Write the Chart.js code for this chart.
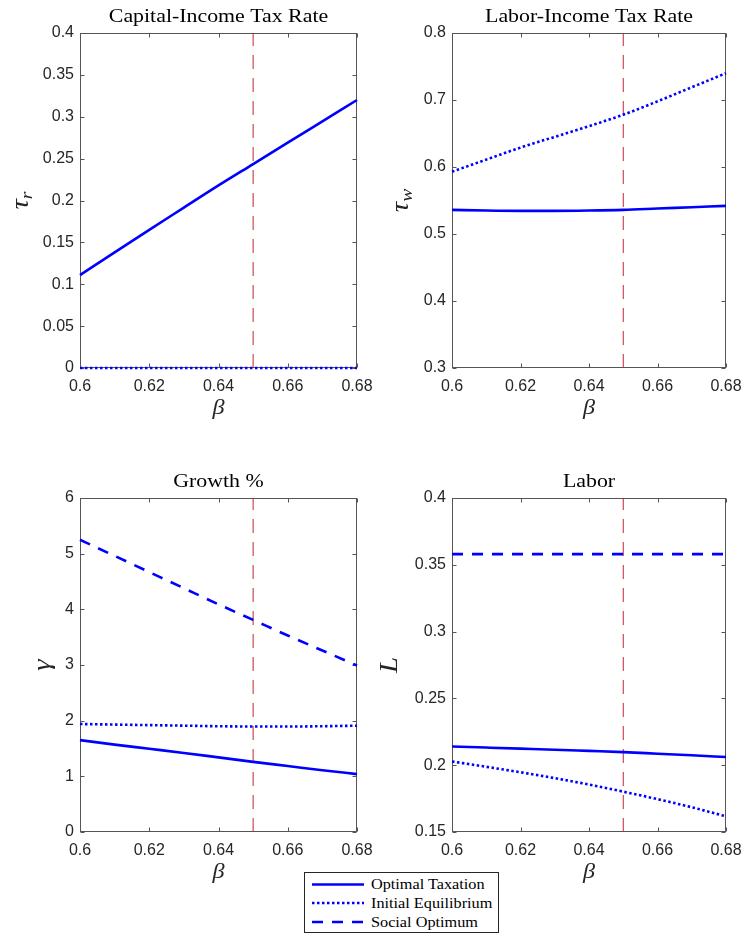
<!DOCTYPE html>
<html>
<head>
<meta charset="utf-8">
<script src="https://cdn.jsdelivr.net/npm/chart.js@4.4.1/dist/chart.umd.min.js"></script>
<style>
html,body{margin:0;padding:0;background:#fff;}
#wrap{position:relative;width:745px;height:936px;overflow:hidden;background:#fff;}
canvas{position:absolute;}
#legend{position:absolute;left:304px;top:872px;width:195px;height:61px;border:1px solid #262626;background:#fff;box-sizing:border-box;}
#legend svg{position:absolute;left:0;top:0;}
#legend .txt{position:absolute;left:66px;font-family:"Liberation Serif","Times New Roman",serif;font-size:14.5px;color:#000;white-space:nowrap;transform:scaleX(1.12);transform-origin:left center;line-height:16px;}
</style>
</head>
<body>
<div id="wrap">
  <canvas id="c1" width="372" height="440" style="left:0;top:0"></canvas>
  <canvas id="c2" width="373" height="440" style="left:372px;top:0"></canvas>
  <canvas id="c3" width="372" height="476" style="left:0;top:460px"></canvas>
  <canvas id="c4" width="373" height="476" style="left:372px;top:460px"></canvas>
  <div id="legend"></div>
</div>
<script>
// ---------------- data ----------------
const beta = [0.60, 0.61, 0.62, 0.63, 0.64, 0.65, 0.66, 0.67, 0.68];
const seriesNames = ['Optimal Taxation', 'Initial Equilibrium', 'Social Optimum'];

const capOptimal = [0.111, 0.138, 0.165, 0.1915, 0.218, 0.2435, 0.269, 0.2945, 0.320];
const capInitial = [0, 0, 0, 0, 0, 0, 0, 0, 0];

const labOptimal = [0.536, 0.535, 0.5345, 0.5345, 0.535, 0.536, 0.538, 0.540, 0.542];
const labInitial = [0.593, 0.611, 0.629, 0.645, 0.661, 0.678, 0.698, 0.719, 0.740];

const growthOptimal = [1.65, 1.57, 1.495, 1.42, 1.34, 1.26, 1.185, 1.11, 1.04];
const growthInitial = [1.94, 1.93, 1.92, 1.91, 1.90, 1.895, 1.895, 1.90, 1.91];
const growthSocial  = [5.25, 4.96, 4.67, 4.38, 4.09, 3.81, 3.53, 3.26, 2.99];

const laborOptimal = [0.214, 0.2132, 0.2124, 0.2116, 0.2107, 0.2098, 0.2086, 0.2074, 0.2061];
const laborInitial = [0.2028, 0.1988, 0.1947, 0.1903, 0.1855, 0.1802, 0.1746, 0.1685, 0.1617];
const laborSocial  = [0.358, 0.358, 0.358, 0.358, 0.358, 0.358, 0.358, 0.358, 0.358];

const vlineBeta = 0.65;

const xTicks      = [0.6, 0.62, 0.64, 0.66, 0.68];
const capTicks    = [0, 0.05, 0.1, 0.15, 0.2, 0.25, 0.3, 0.35, 0.4];
const labTicks    = [0.3, 0.4, 0.5, 0.6, 0.7, 0.8];
const growthTicks = [0, 1, 2, 3, 4, 5, 6];
const laborTicks  = [0.15, 0.2, 0.25, 0.3, 0.35, 0.4];

const titles = ['Capital-Income Tax Rate', 'Labor-Income Tax Rate', 'Growth %', 'Labor'];

// ---------------- styles ----------------
const BLUE = '#0000ff';
const RED = '#c22535';
const DASH = {solid: [], dotted: [2.5, 2.5], dashed: [11, 9]};
const AXIS_COLOR = '#555555';
const TICK_FONT = {family: '"Liberation Sans", Arial, sans-serif', size: 16};
const SERIF = '"Liberation Serif", "Times New Roman", serif';
const SX = 1.15;

const fmt = v => String(parseFloat(Number(v).toFixed(4)));

const decor = {
  id: 'decor',
  beforeDatasetsDraw(chart) {
    const p = chart.options.plugins.decor;
    const ctx = chart.ctx;
    const a = chart.chartArea;
    const xs = chart.scales.x, ys = chart.scales.y;
    const L = Math.round(a.left) + 0.5, R = Math.round(a.right) - 0.5;
    const T = Math.round(a.top) + 0.5, B = Math.round(a.bottom) - 0.5;
    ctx.save();
    ctx.strokeStyle = AXIS_COLOR;
    ctx.lineWidth = 1;
    ctx.setLineDash([]);
    ctx.strokeRect(L, T, R - L, B - T);
    ctx.beginPath();
    xTicks.forEach(v => {
      const px = Math.round(xs.getPixelForValue(v)) + 0.5;
      ctx.moveTo(px, B); ctx.lineTo(px, B - 4);
      ctx.moveTo(px, T); ctx.lineTo(px, T + 4);
    });
    p.yTicks.forEach(v => {
      const py = Math.round(ys.getPixelForValue(v)) + 0.5;
      ctx.moveTo(L, py); ctx.lineTo(L + 4, py);
      ctx.moveTo(R, py); ctx.lineTo(R - 4, py);
    });
    ctx.stroke();
    ctx.restore();
  },
  afterDraw(chart) {
    const p = chart.options.plugins.decor;
    const ctx = chart.ctx;
    const a = chart.chartArea;
    ctx.save();
    // title
    ctx.fillStyle = '#000';
    ctx.font = '19px ' + SERIF;
    ctx.textBaseline = 'alphabetic';
    ctx.textAlign = 'center';
    const cx = (a.left + a.right) / 2;
    ctx.save();
    ctx.translate(cx, a.top - 11.5);
    ctx.scale(SX, 1);
    ctx.fillText(p.title, 0, 0);
    ctx.restore();

    // x label
    ctx.save();
    ctx.fillStyle = '#262626';
    ctx.font = 'italic 21px ' + SERIF;
    ctx.translate(cx, a.bottom + 46);
    ctx.scale(SX, 1);
    ctx.fillText('β', 0, 0);
    ctx.restore();

    // y label (rotated) with optional subscript
    ctx.save();
    ctx.fillStyle = '#262626';
    ctx.translate(p.yLabelX, (a.top + a.bottom) / 2);
    ctx.rotate(-Math.PI / 2);
    ctx.scale(SX, 1);
    ctx.textAlign = 'left';
    ctx.textBaseline = 'alphabetic';
    ctx.font = 'italic 25px ' + SERIF;
    const wm = ctx.measureText(p.yMain).width;
    ctx.font = 'italic 17px ' + SERIF;
    const wsub = p.ySub ? ctx.measureText(p.ySub).width : 0;
    const start = -(wm + wsub) / 2;
    ctx.font = 'italic 25px ' + SERIF;
    ctx.fillText(p.yMain, start, p.yBase);
    if (p.ySub) {
      ctx.font = 'italic 17px ' + SERIF;
      ctx.fillText(p.ySub, start + wm, p.yBase + 4);
    }
    ctx.restore();
    ctx.restore();
  }
};

function makePanel(cfg) {
  const canvas = document.getElementById(cfg.id);
  const H = canvas.height, W = canvas.width;
  const datasets = cfg.series.map(s => ({
    label: s.name,
    data: beta.map((b, i) => ({x: b, y: s.values[i]})),
    borderColor: BLUE,
    backgroundColor: BLUE,
    borderWidth: 2.6,
    borderDash: DASH[s.style],
    borderCapStyle: 'butt',
    pointRadius: 0,
    cubicInterpolationMode: 'monotone',
    clip: false,
    fill: false
  }));
  datasets.push({
    label: 'reference',
    data: [{x: vlineBeta, y: cfg.yTicks[0]}, {x: vlineBeta, y: cfg.yTicks[cfg.yTicks.length - 1]}],
    borderColor: RED,
    borderWidth: 1,
    borderDash: [14, 9],
    pointRadius: 0,
    tension: 0,
    fill: false
  });
  new Chart(canvas, {
    type: 'line',
    data: {datasets},
    options: {
      responsive: false,
      animation: false,
      events: [],
      layout: {padding: {top: cfg.top, right: W - cfg.right, left: 0, bottom: 0}},
      plugins: {
        legend: {display: false},
        title: {display: false},
        tooltip: {enabled: false},
        decor: {title: cfg.title, yTicks: cfg.yTicks, yMain: cfg.yMain, ySub: cfg.ySub, yLabelX: cfg.yLabelX, yBase: cfg.yBase}
      },
      scales: {
        x: {
          type: 'linear',
          min: xTicks[0], max: xTicks[xTicks.length - 1],
          afterBuildTicks: s => { s.ticks = xTicks.map(v => ({value: v})); },
          afterFit: s => { s.height = H - cfg.bottom; s.paddingLeft = 0; s.paddingRight = 0; },
          grid: {display: false, drawTicks: false},
          border: {display: false},
          ticks: {padding: 9, font: TICK_FONT, color: '#262626', maxRotation: 0, autoSkip: false, callback: v => fmt(v)}
        },
        y: {
          type: 'linear',
          min: cfg.yTicks[0], max: cfg.yTicks[cfg.yTicks.length - 1],
          afterBuildTicks: s => { s.ticks = cfg.yTicks.map(v => ({value: v})); },
          afterFit: s => { s.width = cfg.left; s.paddingTop = 0; s.paddingBottom = 0; },
          grid: {display: false, drawTicks: false},
          border: {display: false},
          ticks: {padding: 6, font: TICK_FONT, color: '#262626', autoSkip: false, callback: v => fmt(v)}
        }
      }
    },
    plugins: [decor]
  });
}

makePanel({id: 'c1', left: 80, right: 357, top: 33, bottom: 368, title: titles[0],
  yTicks: capTicks, yMain: 'τ', ySub: 'r', yLabelX: 22, yBase: 6,
  series: [{name: seriesNames[0], values: capOptimal, style: 'solid'},
           {name: seriesNames[1], values: capInitial, style: 'dotted'}]});
makePanel({id: 'c2', left: 80, right: 354, top: 33, bottom: 368, title: titles[1],
  yTicks: labTicks, yMain: 'τ', ySub: 'w', yLabelX: 30, yBase: 6,
  series: [{name: seriesNames[0], values: labOptimal, style: 'solid'},
           {name: seriesNames[1], values: labInitial, style: 'dotted'}]});
makePanel({id: 'c3', left: 80, right: 357, top: 38, bottom: 372, title: titles[2],
  yTicks: growthTicks, yMain: 'γ', ySub: '', yLabelX: 45, yBase: 5,
  series: [{name: seriesNames[0], values: growthOptimal, style: 'solid'},
           {name: seriesNames[1], values: growthInitial, style: 'dotted'},
           {name: seriesNames[2], values: growthSocial, style: 'dashed'}]});
makePanel({id: 'c4', left: 80, right: 354, top: 38, bottom: 372, title: titles[3],
  yTicks: laborTicks, yMain: 'L', ySub: '', yLabelX: 16, yBase: 9,
  series: [{name: seriesNames[0], values: laborOptimal, style: 'solid'},
           {name: seriesNames[1], values: laborInitial, style: 'dotted'},
           {name: seriesNames[2], values: laborSocial, style: 'dashed'}]});

// ---------------- legend ----------------
(function buildLegend() {
  const lg = document.getElementById('legend');
  const styles = ['solid', 'dotted', 'dashed'];
  const rowsY = [11.5, 30, 49];
  let svg = '<svg width="195" height="61" xmlns="http://www.w3.org/2000/svg">';
  styles.forEach((st, i) => {
    const d = DASH[st].length ? ' stroke-dasharray="' + DASH[st].join(' ') + '"' : '';
    svg += '<line x1="7" y1="' + rowsY[i] + '" x2="59" y2="' + rowsY[i] + '" stroke="' + BLUE + '" stroke-width="2.6"' + d + '/>';
  });
  svg += '</svg>';
  let html = svg;
  seriesNames.forEach((n, i) => {
    html += '<div class="txt" style="top:' + (rowsY[i] - 8.5) + 'px">' + n + '</div>';
  });
  lg.innerHTML = html;
})();
</script>
</body>
</html>
